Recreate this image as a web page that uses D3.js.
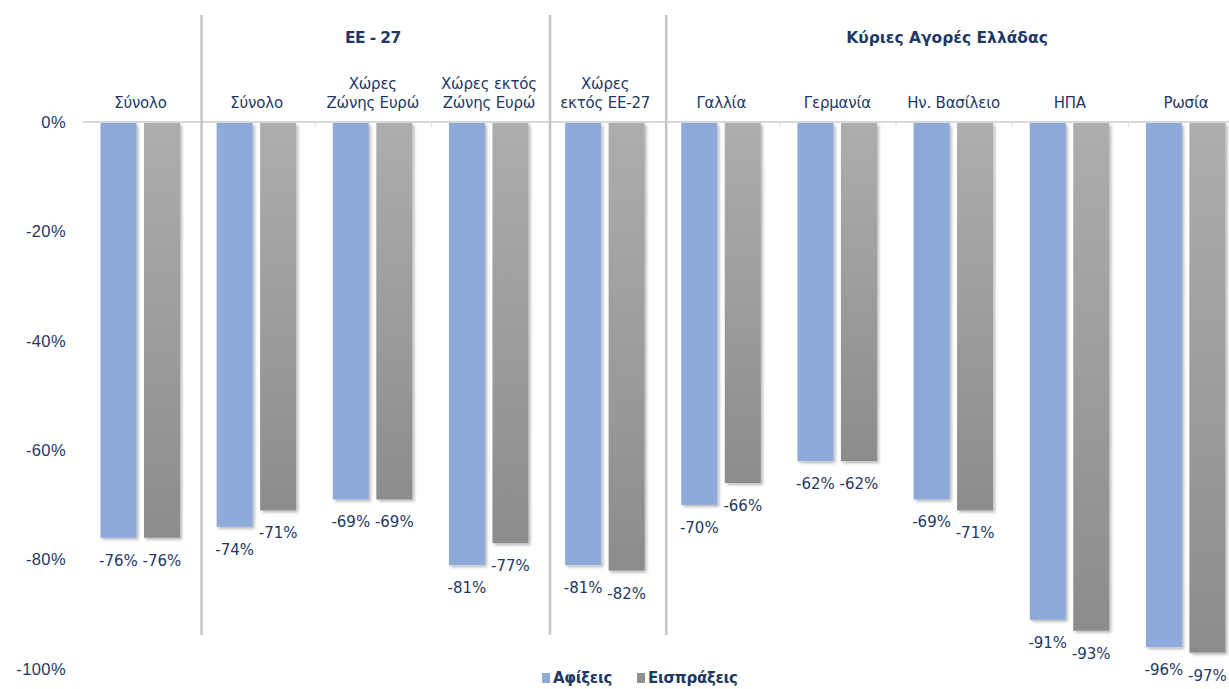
<!DOCTYPE html>
<html>
<head>
<meta charset="utf-8">
<script src="https://cdn.jsdelivr.net/npm/d3@7"></script>
<style>
  body { margin: 0; background: #fff; }
  svg { display: block; font-family: "DejaVu Sans", Verdana, sans-serif; }
</style>
</head>
<body>
<svg id="chart" width="1229" height="689"></svg>
<script>
// κατηγορίες (γραμμές ετικέτας)
const categories = [
  ["Σύνολο"],
  ["Σύνολο"],
  ["Χώρες", "Ζώνης Ευρώ"],
  ["Χώρες εκτός", "Ζώνης Ευρώ"],
  ["Χώρες", "εκτός ΕΕ-27"],
  ["Γαλλία"],
  ["Γερμανία"],
  ["Ην. Βασίλειο"],
  ["ΗΠΑ"],
  ["Ρωσία"]
];
const arrivals = [-76, -74, -69, -81, -81, -70, -62, -69, -91, -96];
const receipts = [-76, -71, -69, -77, -82, -66, -62, -71, -93, -97];
const yTicks = [0, -20, -40, -60, -80, -100];
const seriesNames = ["Αφίξεις", "Εισπράξεις"];
// ομάδες: [πρώτη κατηγορία, τελευταία κατηγορία, τίτλος]
const sections = [
  [1, 3, "ΕΕ - 27"],
  [5, 9, "Κύριες Αγορές Ελλάδας"]
];
// διαχωριστικά μετά από αυτές τις κατηγορίες
const separatorsAfter = [0, 3, 4];

const navy = "#1f3864";
const blue = "#8eaadb";

const svg = d3.select("#chart");
const defs = svg.append("defs");

const grad = defs.append("linearGradient")
  .attr("id", "grayGrad").attr("x1", 0).attr("y1", 0).attr("x2", 0).attr("y2", 1);
grad.append("stop").attr("offset", "0%").attr("stop-color", "#adadad");
grad.append("stop").attr("offset", "100%").attr("stop-color", "#8c8c8c");

const shadow = defs.append("filter").attr("id", "shadow")
  .attr("x", "-20%").attr("y", "-5%").attr("width", "150%").attr("height", "115%");
shadow.append("feDropShadow")
  .attr("dx", 2).attr("dy", 2).attr("stdDeviation", 1.6)
  .attr("flood-color", "#000").attr("flood-opacity", 0.28);

const x = d3.scaleBand()
  .domain(d3.range(categories.length))
  .range([82.4, 1244])
  .padding(0);

const y = d3.scaleLinear().domain([0, -100]).range([122, 669]);

// άξονας Y
const yAxis = svg.append("g")
  .attr("transform", "translate(66,0)")
  .call(d3.axisLeft(y).tickValues(yTicks).tickSize(0).tickFormat(d => d + "%"));
yAxis.select(".domain").remove();
yAxis.selectAll("text")
  .attr("fill", navy).attr("font-size", 16.5).attr("x", 0).attr("dy", "0.32em")
  .attr("letter-spacing", 0.4);

// γραμμή μηδέν
svg.append("line")
  .attr("x1", x.range()[0]).attr("x2", 1229)
  .attr("y1", y(0)).attr("y2", y(0))
  .attr("stroke", "#d9d9d9").attr("stroke-width", 2);

// μικρά σημάδια μεταξύ κατηγοριών
svg.append("g").selectAll("line")
  .data(d3.range(1, categories.length).filter(i => !separatorsAfter.includes(i - 1)))
  .join("line")
  .attr("x1", i => x(i) + 0.5).attr("x2", i => x(i) + 0.5)
  .attr("y1", y(0)).attr("y2", y(0) + 5)
  .attr("stroke", "#d9d9d9").attr("stroke-width", 1);

// κάθετα διαχωριστικά
svg.append("g").selectAll("line")
  .data(separatorsAfter)
  .join("line")
  .attr("x1", i => x(i) + x.bandwidth() + 3)
  .attr("x2", i => x(i) + x.bandwidth() + 3)
  .attr("y1", 15).attr("y2", 635)
  .attr("stroke", "#c6c6c6").attr("stroke-width", 2.5);

const barW = 36;
const offsets = [-40, 3.5];
const series = [arrivals, receipts];
const fills = [blue, "url(#grayGrad)"];

series.forEach((vals, s) => {
  const g = svg.append("g");
  g.selectAll("rect")
    .data(vals)
    .join("rect")
    .attr("x", (d, i) => x(i) + x.bandwidth() / 2 + offsets[s])
    .attr("y", y(0) + 1)
    .attr("width", barW)
    .attr("height", d => y(d) - y(0) - 1)
    .attr("fill", fills[s])
    .attr("filter", "url(#shadow)");
  g.selectAll("text")
    .data(vals)
    .join("text")
    .attr("x", (d, i) => x(i) + x.bandwidth() / 2 + offsets[s] + barW / 2)
    .attr("y", d => y(d) + 28)
    .attr("text-anchor", "middle")
    .attr("fill", navy)
    .attr("font-size", 15)
    .text(d => d + "%");
});

// ετικέτες κατηγοριών
const catG = svg.append("g");
categories.forEach((lines, i) => {
  const t = catG.append("text")
    .attr("text-anchor", "middle")
    .attr("fill", navy)
    .attr("font-size", 15)
    .attr("letter-spacing", -0.2);
  lines.forEach((ln, k) => {
    t.append("tspan")
      .attr("x", x(i) + x.bandwidth() / 2)
      .attr("y", 108 - (lines.length - 1 - k) * 19)
      .text(ln);
  });
});

// τίτλοι ομάδων
sections.forEach(([a, b, title], k) => {
  const cx = k === 0 ? (x(a) + x(b) + x.bandwidth()) / 2 : 947;
  svg.append("text")
    .attr("x", cx).attr("y", 43)
    .attr("text-anchor", "middle")
    .attr("fill", navy)
    .attr("font-size", 15.5)
    .attr("font-weight", "bold")
    .attr("letter-spacing", k === 0 ? -0.6 : 0)
    .text(title);
});

// υπόμνημα
const legend = svg.append("g").attr("transform", "translate(542,678)");
const legendX = [0, 95];
seriesNames.forEach((name, s) => {
  const lg = legend.append("g").attr("transform", `translate(${legendX[s]},0)`);
  lg.append("rect").attr("x", 0).attr("y", -5).attr("width", 8).attr("height", 10)
    .attr("fill", s === 0 ? blue : "#909090");
  lg.append("text").attr("x", 11).attr("y", 0).attr("dy", "0.35em")
    .attr("fill", navy).attr("font-size", 15).attr("font-weight", "bold")
    .attr("letter-spacing", -0.3)
    .text(name);
});
</script>
</body>
</html>
